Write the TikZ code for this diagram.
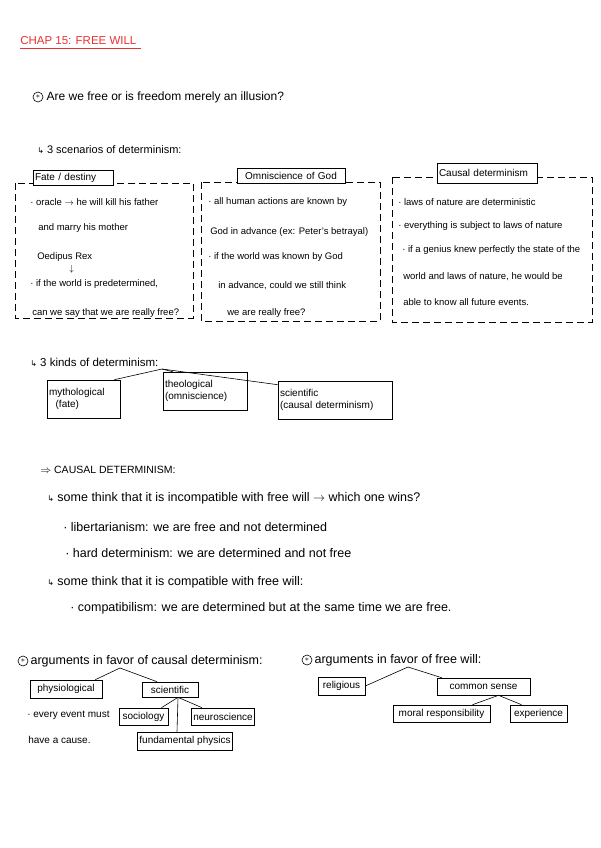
\documentclass[tikz,border=0pt]{standalone}
\usepackage{fontspec}
\setmainfont{Liberation Sans}
\newfontfamily\arrowfont{DejaVu Sans}
\usepackage{xcolor}
\usetikzlibrary{positioning}
\definecolor{penred}{RGB}{232,50,50}

\newcommand{\subarrow}{{\arrowfont\fontsize{8}{9}\selectfont ↳}}

\tikzset{
  note/.style={anchor=west,inner sep=0pt,font=\fontsize{11}{13}\selectfont},
  bignote/.style={note,font=\fontsize{12.5}{14}\selectfont},
  boxnote/.style={anchor=west,inner sep=0pt,font=\fontsize{9.5}{11}\selectfont},
  tagbox/.style={draw,fill=white,inner sep=2pt,align=left,
                 font=\fontsize{10}{12}\selectfont},
  scenbox/.style={draw,dash pattern=on 7pt off 4pt},
  starmark/.style={circle,draw,inner sep=0pt,minimum size=10pt,font=\footnotesize},
}

\begin{document}
\begin{tikzpicture}[x=1pt,y=-1pt,line width=0.6pt]
  \useasboundingbox[fill=white] (0,0) rectangle (600,848);

  % title
  \node[note,penred,font=\fontsize{11.5}{13}\selectfont] (title) at (20,41) {CHAP 15: FREE WILL};
  \draw[penred] ([yshift=-3pt]title.south west) -- ([xshift=4pt,yshift=-3pt]title.south east);

  \node[starmark] (q-mark) at (38,97) {$\ast$};
  \node[note,right=3pt of q-mark,font=\fontsize{12}{14}\selectfont] (q-text) {Are we free or is freedom merely an illusion?};

  % three scenarios
  \node[note] (scen-head) at (37,150) {\subarrow\ 3 scenarios of determinism:};

  \draw[scenbox] (15,183) rectangle (193,318);
  \draw[scenbox] (201,182) rectangle (380,321);
  \draw[scenbox] (392,177) rectangle (592,322);

  \node[tagbox,text width=76pt,minimum height=15pt] (fate) at (73,177.5) {Fate / destiny};
  \node[tagbox,text width=104pt,minimum height=15pt,align=center] (omni) at (291,175.5) {Omniscience of God};
  \node[tagbox,text width=96pt,minimum height=20pt] (causal) at (487,173) {Causal determinism};

  \node[boxnote] (f1) at (30,202) {· oracle $\rightarrow$ he will kill his father};
  \node[boxnote] (f2) at (38,228) {and marry his mother};
  \node[boxnote] (f3) at (37,257) {Oedipus Rex};
  \node[boxnote] (f4) at (69,269) {$\downarrow$};
  \node[boxnote] (f5) at (30,284) {· if the world is predetermined,};
  \node[boxnote] (f6) at (32,313) {can we say that we are really free?};

  \node[boxnote] (g1) at (208,202) {· all human actions are known by};
  \node[boxnote] (g2) at (210,232) {God in advance (ex: Peter's betrayal)};
  \node[boxnote] (g3) at (208,257) {· if the world was known by God};
  \node[boxnote] (g4) at (218,286) {in advance, could we still think};
  \node[boxnote] (g5) at (227,313) {we are really free?};

  \node[boxnote] (c1) at (398,202) {· laws of nature are deterministic};
  \node[boxnote] (c2) at (398,226) {· everything is subject to laws of nature};
  \node[boxnote] (c3) at (402,250) {· if a genius knew perfectly the state of the};
  \node[boxnote] (c4) at (403,277) {world and laws of nature, he would be};
  \node[boxnote] (c5) at (403,302) {able to know all future events.};

  % three kinds
  \node[note,font=\fontsize{11.5}{13}\selectfont] (kinds-head) at (30,362) {\subarrow\ 3 kinds of determinism:};
  \coordinate (kinds-hub) at (162,369);

  \node[tagbox,text width=69pt,minimum height=38pt] (myth) at (83.5,399) {mythological\\\ \ (fate)};
  \node[tagbox,text width=80pt,minimum height=38pt] (theo) at (205,391) {theological\\(omniscience)};
  \node[tagbox,text width=110pt,minimum height=38pt] (sci) at (335,400) {scientific\\(causal determinism)};

  \draw (kinds-hub) -- ([xshift=-6pt]myth.north east);
  \draw (kinds-hub) -- ([xshift=10pt]theo.north west);
  \draw (kinds-hub) -- ([yshift=-4pt]sci.north west);

  % causal determinism
  \node[note,font=\fontsize{10.5}{12}\selectfont] (cd-head) at (40,470) {$\Rightarrow$ CAUSAL DETERMINISM:};
  \node[bignote] (cd1) at (47,498) {\subarrow\ some think that it is incompatible with free will $\rightarrow$ which one wins?};
  \node[bignote] (cd2) at (63,527) {· libertarianism: we are free and not determined};
  \node[bignote] (cd3) at (65,553) {· hard determinism: we are determined and not free};
  \node[bignote] (cd4) at (47,582) {\subarrow\ some think that it is compatible with free will:};
  \node[bignote] (cd5) at (70,608) {· compatibilism: we are determined but at the same time we are free.};

  % arguments for causal determinism
  \node[starmark] (a-mark) at (23,661) {$\ast$};
  \node[bignote,right=2pt of a-mark] (a-head) {arguments in favor of causal determinism:};
  \coordinate (a-hub) at (120,668);

  \node[tagbox,minimum width=72pt,minimum height=18pt,align=center] (physio) at (66,689) {physiological};
  \node[tagbox,minimum width=56pt,minimum height=15pt,align=center] (scient) at (170,689.5) {scientific};
  \node[note,font=\fontsize{10}{12}\selectfont] (ev1) at (27,715) {· every event must};
  \node[note,font=\fontsize{10}{12}\selectfont] (ev2) at (28,740) {have a cause.};
  \node[tagbox,minimum width=49pt,minimum height=17pt,align=center] (socio) at (143.5,716.5) {sociology};
  \node[tagbox,minimum width=60pt,minimum height=17pt,align=center] (neuro) at (223,716.5) {neuroscience};
  \node[tagbox,minimum width=94pt,minimum height=18pt,align=center] (phys) at (185,741) {fundamental physics};

  \draw (a-hub) -- ([xshift=-7pt]physio.north east);
  \draw (a-hub) -- ([xshift=-13pt]scient.north);
  \draw ([xshift=8pt]scient.south) -- ([xshift=18pt]socio.north);
  \draw ([xshift=8pt]scient.south) -- ([xshift=-21pt]neuro.north);
  \draw ([xshift=8pt]scient.south) -- ([xshift=-8pt]phys.north);

  % arguments for free will
  \node[starmark] (w-mark) at (307,660) {$\ast$};
  \node[bignote,right=2pt of w-mark] (w-head) {arguments in favor of free will:};
  \coordinate (w-hub) at (408,667);

  \node[tagbox,minimum width=47pt,minimum height=18pt,align=center] (relig) at (341.5,686) {religious};
  \node[tagbox,minimum width=93pt,minimum height=17pt,align=center] (common) at (483.5,686.5) {common sense};
  \node[tagbox,minimum width=97pt,minimum height=17pt,align=center] (moral) at (441.5,713.5) {moral responsibility};
  \node[tagbox,minimum width=57pt,minimum height=17pt,align=center] (exper) at (538.5,713.5) {experience};

  \draw (w-hub) -- (relig.east);
  \draw (w-hub) -- ([xshift=5pt]common.north west);
  \draw ([xshift=15pt]common.south) -- ([xshift=31pt]moral.north);
  \draw ([xshift=15pt]common.south) -- ([xshift=-17pt]exper.north);
\end{tikzpicture}
\end{document}
